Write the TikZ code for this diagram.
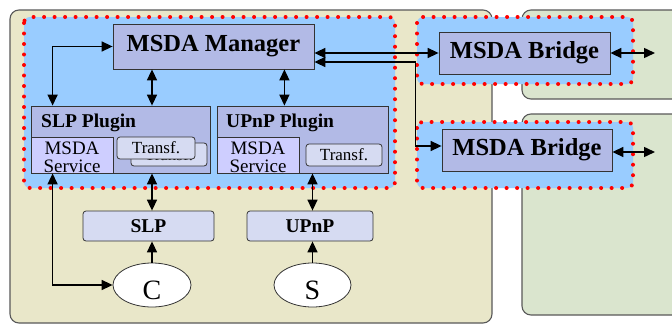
\documentclass[tikz,border=0pt]{standalone}
\usepackage{fontspec}
\setmainfont{Liberation Serif}
\usetikzlibrary{arrows.meta}
\usetikzlibrary{shapes.geometric}

\definecolor{beige}{RGB}{233,231,201}
\definecolor{sage}{RGB}{218,229,206}
\definecolor{sky}{RGB}{153,204,255}
\definecolor{lav}{RGB}{178,186,230}
\definecolor{lilac}{RGB}{206,206,255}
\definecolor{pale}{RGB}{214,219,242}

\begin{document}
\begin{tikzpicture}[x=1pt, y=-1pt, >={Triangle[length=11pt,width=10pt]},
  area/.style={draw=black!65, line width=1.1pt, rounded corners=9pt},
  zone/.style={fill=sky, draw=red, line width=4pt, line cap=round, dash pattern=on 0pt off 10.5pt, rounded corners=6pt},
  box/.style={draw=black!80, fill=lav, line width=0.8pt, inner sep=0pt},
  service/.style={draw=black!80, fill=lilac, line width=0.8pt, minimum width=82pt, minimum height=36pt},
  small/.style={draw=black!80, fill=pale, line width=0.8pt, rounded corners=3pt, inner sep=0pt},
  big/.style={font=\fontsize{24.5}{26}\selectfont\bfseries},
  title/.style={font=\fontsize{19.5}{20}\selectfont\bfseries},
  link/.style={line width=1.5pt}]
\clip (0,0) rectangle (672,324);
\fill[white] (0,0) rectangle (672,324);
\draw[area, fill=beige] (10,10) rectangle (492,323);
\draw[area, fill=sage] (522,10) rectangle (700,99);
\draw[area, fill=sage] (522,114) rectangle (700,315);
\draw[zone] (24,17) rectangle (395,188);
\draw[zone] (417,17) rectangle (633,84);
\draw[zone] (417,122) rectangle (633,188);

\node[box, big, minimum width=201pt, minimum height=45pt] (Manager) at (213.5,46.5) {MSDA Manager};
\node[box, big, minimum width=171pt, minimum height=42pt] (BridgeA) at (524.5,53) {MSDA Bridge};
\node[box, big, minimum width=170pt, minimum height=42pt] (BridgeB) at (527,150) {MSDA Bridge};
\node[box, minimum width=179pt, minimum height=67pt] (SLPPlugin) at (120.5,139.5) {};
\node[box, minimum width=171pt, minimum height=67pt] (UPnPPlugin) at (302.5,139.5) {};
\node[title, anchor=base west, inner sep=0pt] (SLPTitle) at (41,127) {SLP Plugin};
\node[title, anchor=base west, inner sep=0pt] (UPnPTitle) at (226,127) {UPnP Plugin};
\node[service] (SLPService) at (72,155) {};
\node[service] (UPnPService) at (258,155) {};
\node[anchor=north, align=center, inner sep=0pt, font=\fontsize{19}{18}\selectfont] (SLPServiceText) at (72,141.5) {MSDA\\Service};
\node[anchor=north, align=center, inner sep=0pt, font=\fontsize{19}{18}\selectfont] (UPnPServiceText) at (258,141.5) {MSDA\\Service};
\node[small, minimum width=76pt, minimum height=23pt, font=\fontsize{17}{17}\selectfont] (SLPTransfB) at (169,154.5) {Transf.};
\node[small, minimum width=78pt, minimum height=22pt, font=\fontsize{17}{17}\selectfont] (SLPTransfA) at (156,148) {Transf.};
\node[small, minimum width=76pt, minimum height=22pt, font=\fontsize{17}{17}\selectfont] (UPnPTransf) at (344,155) {Transf.};
\node[small, title, minimum width=131pt, minimum height=30pt] (SLP) at (148.5,226) {SLP};
\node[small, title, minimum width=126pt, minimum height=30pt] (UPnP) at (310,226) {UPnP};
\node[draw=black!80, fill=white, ellipse, line width=0.8pt, minimum width=78pt, minimum height=44pt, inner sep=0pt, text height=29pt, font=\fontsize{28}{28}\selectfont] (C) at (152,285) {C};
\node[draw=black!80, fill=white, ellipse, line width=0.8pt, minimum width=77pt, minimum height=44pt, inner sep=0pt, text height=29pt, font=\fontsize{28}{28}\selectfont] (S) at (312.5,285) {S};
\coordinate (OutA) at (655,53);
\coordinate (OutB) at (655,152);
\coordinate (M1) at ([xshift=-30pt]Manager.south east);

\draw[link, <->] ([xshift=22pt]SLPPlugin.north west) |- (Manager.west);
\draw[link, <->] (Manager.south -| C.north) -- (SLPPlugin.north -| C.north);
\draw[link, <->] (M1) -- (M1 |- UPnPPlugin.north);
\draw[link, <->] (Manager.east |- BridgeA.west) -- (BridgeA.west);
\draw[link, <->] ([yshift=-15.5pt]Manager.east) -- ++(101pt,0) |- ([yshift=4pt]BridgeB.west);
\draw[link, <->] (BridgeA.east) -- (OutA);
\draw[link, <->] (BridgeB.east |- OutB) -- (OutB);
\draw[link, <->] (SLPPlugin.south -| C.north) -- (SLP.north -| C.north);
\draw[link, <->] (UPnPPlugin.south -| S.north) -- (UPnP.north -| S.north);
\draw[link, ->] (C.north) -- (SLP.south -| C.north);
\draw[link, ->] (S.north) -- (UPnP.south -| S.north);
\draw[link, <->] ([xshift=22pt]SLPPlugin.south west) |- (C.west);
\end{tikzpicture}
\end{document}
